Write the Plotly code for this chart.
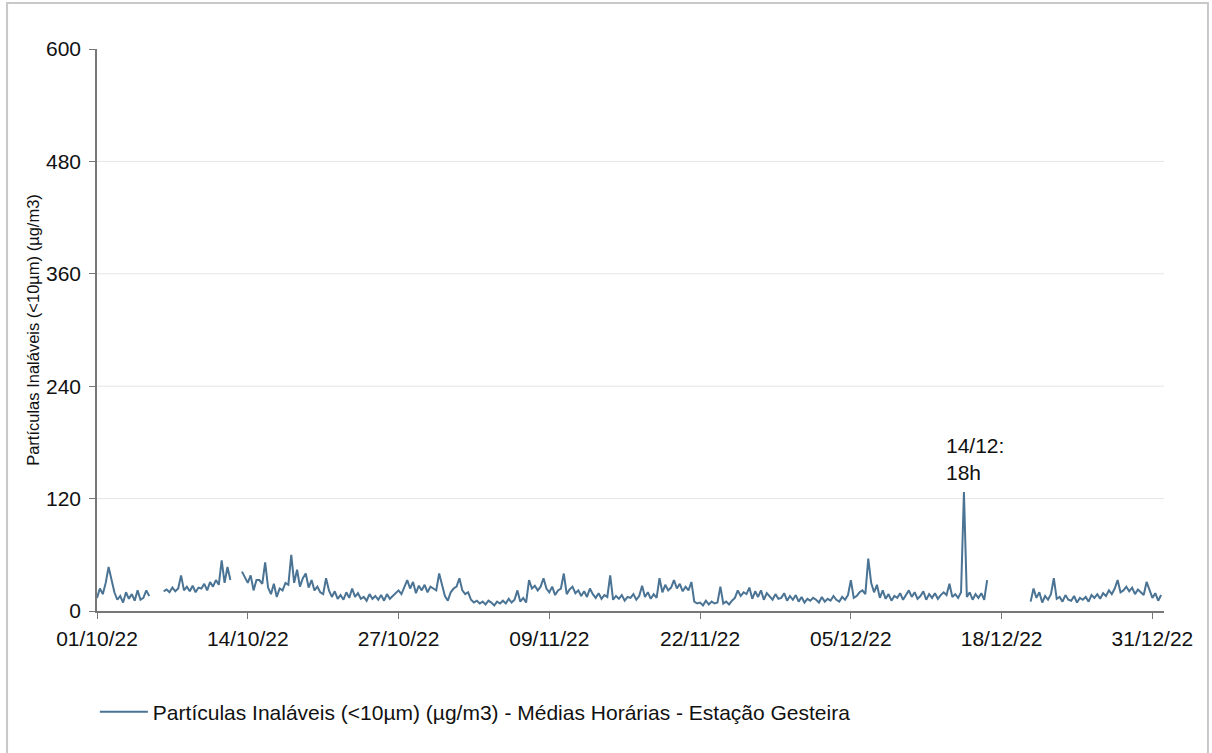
import pandas as pd
import plotly.graph_objects as go

# ==========================================
# Data — PM10 hourly means, read at 6h steps (00h, 06h, 12h, 18h)
# ==========================================
oct_vals = [
    14, 24, 18, 30,   47, 34, 20, 12,   16, 9, 20, 13,   18, 11, 22, 12,
    14, 22, 16, None, None, None, None, 21,   23, 20, 25, 21,   24, 38, 22, 26,
    21, 27, 20, 25,   24, 29, 22, 31,   26, 33, 28, 54,   30, 47, 33, None,
    None, None, 42, 36,   30, 38, 22, 33,   33, 29, 52, 25,   18, 29, 15, 24,
    22, 30, 28, 60,   30, 44, 26, 35,   40, 25, 33, 22,   26, 20, 18, 35,
    22, 15, 21, 13,   17, 12, 20, 14,   24, 15, 19, 13,   15, 11, 18, 13,
    16, 12, 17, 11,   18, 13, 16, 20,   22, 18, 25, 33,   24, 31, 19, 27,
    22, 28, 20, 26,   24, 22, 40, 28,   16, 11, 20, 24,
]
nov_vals = [
    26, 35, 22, 18,   20, 12, 9, 11,   8, 10, 7, 11,   9, 6, 10, 8,
    11, 8, 13, 9,   12, 22, 10, 14,   9, 33, 24, 27,   22, 26, 35, 24,
    20, 26, 17, 22,   24, 40, 18, 23,   26, 19, 22, 16,   21, 15, 24, 18,
    14, 19, 13, 17,   15, 38, 12, 16,   13, 17, 11, 15,   14, 18, 12, 16,
    27, 15, 20, 13,   18, 14, 35, 20,   28, 22, 25, 33,   24, 29, 21, 26,
    22, 31, 10, 8,   9, 6, 11, 7,   10, 8, 9, 26,   8, 10, 7, 11,
    14, 22, 16, 20,   18, 25, 13, 21,   15, 22, 12, 19,   16, 12, 18, 13,
    14, 19, 11, 16,   12, 17, 10, 15,
]
dec_vals = [
    9, 13, 11, 14,   12, 9, 15, 10,   13, 11, 16, 12,   10, 15, 12, 17,
    33, 14, 16, 20,   22, 18, 56, 30,   20, 28, 14, 22,   13, 18, 11, 16,
    14, 19, 12, 17,   22, 15, 20, 13,   16, 21, 12, 18,   14, 19, 13, 17,
    20, 17, 29, 15,   18, 14, 20, 127,   15, 20, 12, 18,   14, 19, 12, 33,
    None, None, None, None,   None, None, None, None,   None, None, None, None,
    None, None, 10, 24,   14, 20, 9, 16,   12, 18, 35, 13,   15, 10, 17, 12,
    11, 16, 9, 14,   12, 15, 10, 17,   14, 18, 13, 19,   16, 22, 18, 24,
    33, 20, 22, 26,   21, 25, 18, 23,   20, 17, 31, 22,   14, 19, 11, 17,
]

tick_dates = ['2022-10-01', '2022-10-14', '2022-10-27', '2022-11-09',
              '2022-11-22', '2022-12-05', '2022-12-18', '2022-12-31']
y_ticks = [0, 120, 240, 360, 480, 600]

peak_time = '2022-12-14 18:00'
peak_value = 127
peak_label = '14/12:<br>18h'

series_name = 'Partículas Inaláveis (<10µm) (µg/m3) - Médias Horárias - Estação Gesteira'
y_title = 'Partículas Inaláveis (<10µm) (µg/m3)'

values = oct_vals + nov_vals + dec_vals
times = pd.date_range('2022-10-01', periods=len(values), freq='6h')

LINE = '#4a7394'
FONT = 'Liberation Sans, Arial, sans-serif'

fig = go.Figure()
fig.add_trace(go.Scatter(
    x=times, y=values,
    mode='lines',
    line=dict(color=LINE, width=2),
    connectgaps=False,
    name=series_name
))

fig.add_annotation(
    x=peak_time, y=peak_value,
    text=peak_label,
    showarrow=False,
    xanchor='left', yanchor='bottom', align='left',
    xshift=-20, yshift=6,
    font=dict(size=21, color='#111111', family=FONT)
)

# light grid lines only between the axis ends
for v in y_ticks[1:-1]:
    fig.add_shape(type='line', xref='paper', x0=0, x1=1, yref='y', y0=v, y1=v,
                  line=dict(color='#e6e6e6', width=1), layer='below')

# outer frame
fig.add_shape(type='rect', xref='paper', yref='paper',
              x0=-0.0843, x1=1.0412, y0=-0.27, y1=1.082,
              line=dict(color='#c8c8c8', width=2))

fig.update_layout(
    width=1212, height=753,
    margin=dict(l=97, r=48, t=49, b=142),
    paper_bgcolor='white', plot_bgcolor='white',
    font=dict(family=FONT, size=21, color='#111111'),
    showlegend=True,
    legend=dict(orientation='h', x=-0.002, y=-0.18, xanchor='left', yanchor='middle',
                itemwidth=48, font=dict(size=21, color='#111111')),
    xaxis=dict(
        range=['2022-10-01', '2023-01-01'],
        tickvals=tick_dates, tickformat='%d/%m/%y',
        showgrid=False, zeroline=False,
        showline=True, linecolor='#777777', linewidth=1.5,
        ticks='outside', ticklen=6, tickcolor='#777777',
        ticklabelstandoff=2,
        tickfont=dict(size=21)
    ),
    yaxis=dict(
        range=[0, 600], tickvals=y_ticks,
        showgrid=False, zeroline=False,
        showline=True, linecolor='#777777', linewidth=1.5,
        ticks='outside', ticklen=6, tickcolor='#777777',
        ticklabelstandoff=4,
        tickfont=dict(size=21),
        title=dict(text=y_title, font=dict(size=16.5), standoff=2)
    )
)

fig.write_html('out.html', config={'displayModeBar': False},
               post_script="document.body.style.margin='0';")
